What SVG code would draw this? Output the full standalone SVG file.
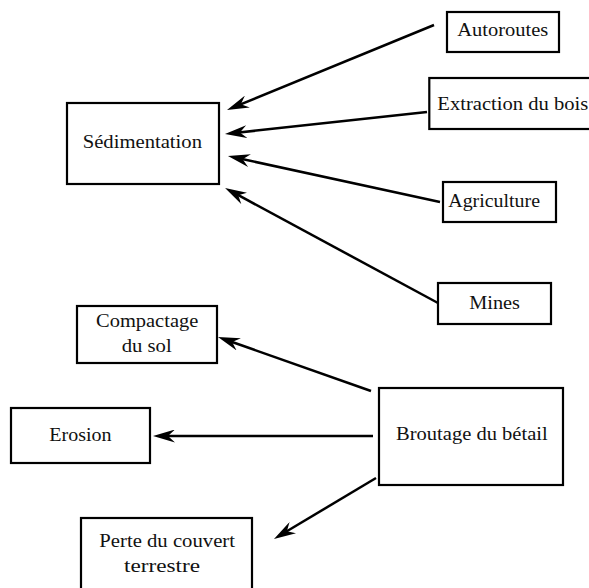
<svg xmlns="http://www.w3.org/2000/svg" width="589" height="588" viewBox="0 0 589 588">
<style>
.box{fill:#fff;stroke:#000;stroke-width:2.2}
.lbl{font-family:"Liberation Serif","Times New Roman",serif;font-size:18px;fill:#111}
.edge{stroke:#000;stroke-width:2.5;fill:none;marker-end:url(#arr)}
</style>
<defs>
<marker id="arr" viewBox="0 0 22 13" markerWidth="22" markerHeight="13" refX="10" refY="6.5" orient="auto" markerUnits="userSpaceOnUse">
<path d="M0,0 L22,6.5 L0,13 L7,6.5 Z" fill="#000"/>
</marker>
</defs>
<rect width="589" height="588" fill="#fff"/>
<g id="connectors">
<line class="edge" x1="434" y1="25" x2="238.1" y2="105.4"/>
<line class="edge" x1="427" y1="112" x2="236.9" y2="132.7"/>
<line class="edge" x1="440" y1="202" x2="239.7" y2="158.5"/>
<line class="edge" x1="438" y1="303" x2="235.6" y2="193.7"/>
<line class="edge" x1="371" y1="391" x2="229.3" y2="341"/>
<line class="edge" x1="373" y1="436" x2="165" y2="436"/>
<line class="edge" x1="376" y1="478" x2="284.3" y2="532.8"/>
</g>
<g id="sedimentation">
<rect class="box" x="67" y="103" width="152" height="81"/>
<text class="lbl" x="82.7" y="148" textLength="119.3" lengthAdjust="spacingAndGlyphs">Sédimentation</text>
</g>
<g id="autoroutes">
<rect class="box" x="447" y="12" width="112" height="40"/>
<text class="lbl" x="457.3" y="36" textLength="91" lengthAdjust="spacingAndGlyphs">Autoroutes</text>
</g>
<g id="extraction">
<rect class="box" x="429.3" y="78" width="180" height="51"/>
<text class="lbl" x="437.3" y="110" textLength="151" lengthAdjust="spacingAndGlyphs">Extraction du bois</text>
</g>
<g id="agriculture">
<rect class="box" x="443" y="182" width="113" height="40"/>
<text class="lbl" x="448.3" y="207" textLength="91.7" lengthAdjust="spacingAndGlyphs">Agriculture</text>
</g>
<g id="mines">
<rect class="box" x="438" y="283" width="113" height="41"/>
<text class="lbl" x="469.3" y="309" textLength="50.7" lengthAdjust="spacingAndGlyphs">Mines</text>
</g>
<g id="compactage">
<rect class="box" x="77" y="306" width="140" height="57"/>
<text class="lbl" x="96" y="327.3" textLength="102.3" lengthAdjust="spacingAndGlyphs">Compactage</text>
<text class="lbl" x="121.7" y="351.7" textLength="50" lengthAdjust="spacingAndGlyphs">du sol</text>
</g>
<g id="erosion">
<rect class="box" x="11" y="408" width="139" height="55"/>
<text class="lbl" x="49.3" y="440.7" textLength="62.3" lengthAdjust="spacingAndGlyphs">Erosion</text>
</g>
<g id="broutage">
<rect class="box" x="379" y="388" width="184" height="97"/>
<text class="lbl" x="396" y="440" textLength="151.7" lengthAdjust="spacingAndGlyphs">Broutage du bétail</text>
</g>
<g id="perte">
<rect class="box" x="81" y="518" width="171" height="80"/>
<text class="lbl" x="99.3" y="546.7" textLength="135.7" lengthAdjust="spacingAndGlyphs">Perte du couvert</text>
<text class="lbl" x="124" y="571.7" textLength="76" lengthAdjust="spacingAndGlyphs">terrestre</text>
</g>
</svg>
